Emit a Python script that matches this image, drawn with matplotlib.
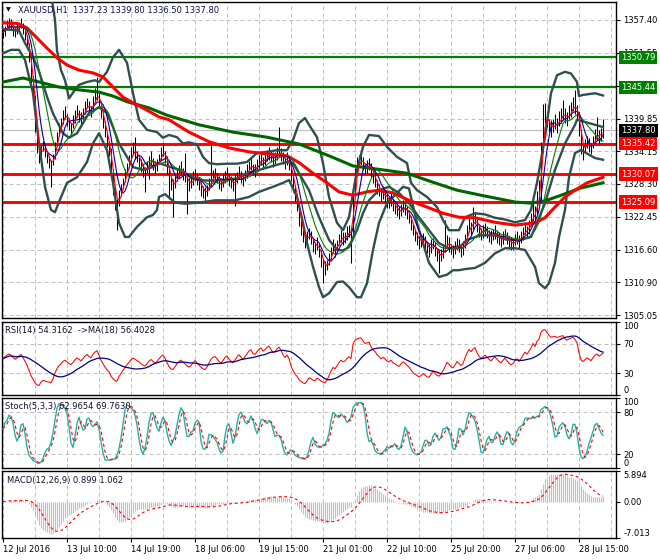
import numpy as np
import pandas as pd
import matplotlib
matplotlib.use("Agg")
import matplotlib.pyplot as plt

plt.rcParams['font.family'] = ['DejaVu Sans']
plt.rcParams['font.size'] = 6

# ---------------- data ----------------
closes = [
 1355.2,1355.8,1356.5,1357.0,1356.6,1355.9,1355.3,1355.8,1356.4,1356.9,
 1356.0,1354.8,1353.4,1351.0,1347.5,1344.0,1339.0,1335.0,1333.0,1334.4,
 1335.0,1334.2,1333.0,1332.4,1331.6,1332.8,1335.0,1336.8,1338.2,1339.0,
 1340.2,1340.8,1339.9,1338.9,1338.4,1339.2,1340.4,1341.2,1340.6,1339.9,
 1340.8,1341.9,1342.6,1341.8,1341.4,1342.8,1343.8,1344.4,1343.0,1341.0,
 1339.4,1337.6,1336.0,1334.6,1331.0,1328.0,1325.6,1324.4,1326.2,1327.4,
 1328.6,1330.0,1331.2,1332.4,1333.6,1334.4,1334.0,1333.2,1332.6,1331.6,
 1330.8,1330.4,1331.2,1332.2,1332.8,1332.0,1331.2,1331.8,1332.8,1333.6,
 1334.2,1333.2,1331.4,1329.6,1328.4,1328.0,1328.8,1329.8,1330.6,1331.0,
 1330.2,1329.6,1328.8,1328.2,1328.6,1329.4,1330.0,1329.2,1328.4,1327.6,
 1327.0,1326.6,1327.2,1328.2,1329.2,1329.8,1330.0,1329.4,1328.6,1328.2,
 1328.8,1329.6,1330.0,1329.2,1328.6,1328.2,1328.8,1329.6,1330.2,1329.6,
 1329.0,1329.8,1330.6,1331.4,1331.8,1331.0,1330.8,1331.6,1332.4,1332.8,
 1332.2,1332.6,1333.4,1333.8,1333.2,1332.6,1332.9,1333.6,1334.2,1333.6,
 1332.8,1332.2,1332.8,1332.0,1330.0,1328.2,1326.5,1325.0,1322.5,1320.6,
 1319.2,1318.2,1318.8,1319.6,1318.8,1317.6,1317.0,1317.6,1316.6,1315.0,
 1314.0,1313.4,1314.0,1315.0,1316.2,1317.2,1316.6,1317.4,1318.4,1319.2,
 1318.6,1318.8,1319.6,1320.2,1319.6,1326.5,1330.0,1331.6,1332.4,1332.8,
 1331.8,1331.0,1331.4,1332.0,1330.6,1329.4,1329.0,1327.8,1327.2,1326.2,
 1326.8,1326.2,1325.4,1325.0,1325.6,1324.6,1324.2,1323.6,1323.2,1323.8,
 1324.4,1324.0,1323.2,1322.6,1321.4,1320.2,1319.4,1318.6,1318.0,1318.2,
 1318.6,1317.8,1317.0,1316.6,1317.2,1317.8,1316.8,1315.8,1315.4,1315.8,
 1316.4,1317.2,1318.2,1317.6,1316.8,1316.4,1317.0,1317.8,1317.2,1316.6,
 1317.0,1318.4,1319.8,1321.2,1320.6,1321.6,1322.2,1321.0,1320.0,1319.4,
 1319.8,1320.4,1319.8,1319.2,1318.8,1319.4,1319.8,1319.2,1318.6,1318.2,
 1318.8,1319.4,1318.6,1318.0,1317.6,1317.8,1318.4,1318.8,1318.2,1318.8,
 1319.6,1320.4,1320.0,1320.8,1321.8,1323.6,1323.0,1325.5,1327.0,1334.5,
 1339.5,1340.5,1339.6,1338.6,1338.0,1338.6,1339.2,1338.8,1339.6,1340.4,
 1341.0,1340.2,1339.8,1340.8,1341.6,1342.4,1341.8,1341.0,1338.0,1335.0,
 1334.2,1335.0,1335.8,1335.2,1334.6,1335.8,1336.8,1337.4,1336.6,1337.2,1337.8]

up_wick = [
 0.8,0.6,0.9,0.7,1.0,0.6,0.8,0.9,0.7,0.8,
 0.7,0.8,0.6,0.9,0.8,1.0,0.9,1.2,1.0,0.8,
 0.9,0.7,1.1,0.8,1.0,0.9,0.8,0.7,0.9,1.0,
 1.2,1.4,0.9,1.1,0.8,1.3,1.0,1.2,0.9,1.1,
 0.9,1.2,1.0,1.3,0.8,1.1,1.5,2.9,1.0,0.8,
 0.9,1.0,0.8,1.1,0.9,1.2,1.0,0.8,1.1,0.9,
 0.8,1.0,0.9,1.1,1.2,1.4,2.6,1.0,0.9,1.2,
 1.0,0.9,1.2,1.0,1.3,0.9,1.1,1.0,0.9,1.2,
 1.3,1.0,0.9,1.2,1.0,1.1,0.9,1.2,1.0,1.3,
 1.0,4.2,0.9,1.1,1.0,1.2,1.0,0.9,1.1,1.0,
 0.9,1.2,1.0,1.1,6.6,1.0,1.2,0.9,1.1,1.0,
 1.2,1.0,1.3,0.9,1.1,1.0,1.2,0.9,1.3,1.0,
 1.1,0.9,1.2,1.0,1.3,0.9,1.1,1.2,1.0,1.1,
 0.9,1.2,1.0,1.1,0.9,1.3,1.0,1.2,4.2,1.0,
 1.1,0.9,1.2,1.0,0.9,1.1,1.0,0.8,1.0,1.2,
 1.3,1.0,1.2,0.9,1.1,1.2,1.0,1.3,0.9,1.1,
 1.0,1.2,0.9,1.1,1.0,1.3,1.2,0.9,1.1,1.0,
 1.2,1.0,1.3,0.9,1.1,0.8,1.2,1.4,1.0,1.1,
 1.3,1.0,1.2,0.9,1.1,1.0,1.2,0.9,1.1,1.0,
 1.2,0.9,1.1,1.0,1.3,0.9,1.1,1.0,1.2,0.9,
 1.1,1.0,1.2,0.9,1.0,1.1,0.9,1.2,1.0,1.1,
 1.0,1.2,0.9,1.1,1.3,1.0,1.2,0.9,1.1,1.0,
 1.2,4.7,1.0,1.3,0.9,1.1,1.2,1.0,1.3,0.9,
 1.1,1.0,1.2,1.3,1.0,2.6,1.2,1.0,0.9,1.1,
 1.2,1.0,1.1,0.9,1.3,1.0,1.2,0.9,1.1,1.0,
 1.2,0.9,1.1,1.0,1.3,0.9,1.1,1.2,1.0,1.1,
 1.0,1.2,0.9,1.1,1.3,1.5,1.4,1.6,2.0,1.3,
 3.0,2.2,1.4,1.2,1.6,1.3,1.5,1.2,1.6,1.4,
 2.2,1.5,1.3,1.6,1.2,1.4,3.1,1.3,1.2,1.0,
 1.1,1.3,1.0,1.2,0.9,1.1,1.3,2.8,1.2,1.0,2.0]

down_wick = [
 1.0,1.2,0.8,1.1,0.9,1.3,1.0,0.9,1.2,1.0,
 1.1,0.9,1.2,1.0,1.3,1.1,1.4,1.2,1.0,1.2,
 0.9,1.1,1.0,1.3,3.8,1.0,0.9,1.1,1.0,0.8,
 1.1,0.9,1.3,1.0,1.2,0.9,1.1,1.0,1.3,1.1,
 1.0,1.2,0.9,1.1,1.3,1.0,0.9,1.2,1.1,1.0,
 1.2,1.0,1.1,1.3,1.4,1.6,1.9,4.3,1.2,1.0,
 1.1,0.9,1.2,1.0,1.1,0.9,1.2,1.0,1.3,1.1,
 1.2,3.6,1.0,3.0,1.1,1.3,1.0,1.2,0.9,1.1,
 1.0,1.2,1.3,4.0,1.1,5.6,1.2,1.0,1.3,1.1,
 1.2,1.0,5.8,1.2,1.0,1.3,1.1,1.0,1.2,1.4,
 1.2,1.4,1.1,1.0,1.2,1.1,1.3,1.0,1.2,1.1,
 1.0,1.2,1.1,1.3,1.0,1.2,4.4,1.1,1.0,1.2,
 1.1,1.0,1.3,1.2,1.0,1.1,1.2,1.0,1.3,1.1,
 1.2,1.0,1.1,1.3,1.0,1.2,1.1,1.0,1.2,1.3,
 1.0,1.2,1.1,1.3,1.2,1.4,1.3,1.5,1.6,1.4,
 1.2,1.3,1.1,1.0,1.2,1.3,1.1,1.0,1.2,1.4,
 3.3,1.2,1.0,1.1,1.2,1.0,1.3,1.1,1.0,1.2,
 1.1,1.0,1.2,1.3,5.3,7.0,1.2,1.1,1.0,1.2,
 1.1,1.0,1.2,1.3,1.1,1.0,1.2,1.3,1.1,1.0,
 1.2,1.1,1.3,1.0,1.2,1.1,1.3,1.0,1.2,1.1,
 1.0,1.2,1.1,1.3,1.2,1.0,1.3,1.1,1.2,1.0,
 1.1,1.3,1.0,1.2,1.1,1.0,1.3,1.2,2.9,1.1,
 1.2,1.0,1.1,1.3,1.0,1.2,1.1,1.3,1.0,1.2,
 1.3,1.1,1.0,1.2,1.1,1.3,1.0,1.2,1.1,1.0,
 1.1,1.3,1.0,1.2,1.1,1.0,1.2,1.3,1.1,1.0,
 1.2,1.1,1.0,1.3,1.1,1.2,1.0,1.1,1.3,1.0,
 1.2,1.0,1.1,1.3,1.0,1.2,1.1,1.3,1.2,9.0,
 5.5,1.4,1.2,1.1,1.3,1.0,1.2,1.4,1.1,1.2,
 1.3,1.1,1.2,1.0,1.4,1.2,1.1,1.3,1.2,1.4,
 1.6,1.2,1.1,1.3,1.0,1.2,1.1,1.3,1.0,1.2,1.3]

# slow moving averages and Bollinger bands, read at sample bars
ma_red_bar = [0,7,12,17,22,27,32,38,45,50,55,60,65,72,78,83,93,103,113,123,133,142,148,155,162,168,175,182,188,195,203,212,220,228,236,246,256,266,271,276,281,286,292,300]
ma_red_val = [1356.9,1356.8,1356.0,1354.2,1352.4,1350.7,1349.4,1348.5,1348.0,1347.3,1345.5,1343.7,1342.7,1341.4,1340.2,1339.7,1337.5,1335.8,1334.7,1334.0,1333.6,1333.3,1332.1,1330.2,1328.5,1326.9,1326.3,1326.9,1327.2,1326.7,1325.4,1324.2,1323.1,1322.4,1322.3,1321.5,1321.0,1321.4,1322.3,1324.2,1326.0,1327.2,1328.5,1329.5]

ma_green_bar = [0,10,18,28,38,48,55,62,68,73,82,98,115,132,148,163,175,188,202,215,227,239,256,264,271,279,289,300]
ma_green_val = [1346.4,1347.1,1346.4,1345.5,1345.0,1344.6,1343.9,1342.9,1342.3,1341.8,1340.5,1338.8,1337.5,1336.6,1335.4,1333.3,1331.5,1330.9,1330.2,1328.6,1327.2,1326.3,1325.1,1324.9,1325.3,1326.3,1327.6,1328.5]

bb_up_bar = [0,6,11,16,21,24,26,27,29,31,33,36,38,42,46,48,52,55,58,62,65,68,72,77,80,83,87,90,93,97,100,103,107,112,117,122,127,132,137,142,145,148,151,153,157,160,163,167,170,173,177,180,183,188,192,197,202,204,207,212,217,220,223,228,231,236,241,246,251,256,261,264,267,271,274,277,281,284,287,288,290,296,300]
bb_up_val = [1362.5,1363.5,1364.5,1365.5,1365.0,1362.0,1357.4,1352.0,1348.5,1346.7,1343.5,1345.0,1345.9,1346.4,1346.7,1346.4,1348.2,1350.8,1352.1,1349.8,1344.4,1339.7,1337.9,1337.5,1336.5,1337.0,1336.6,1335.5,1335.7,1335.3,1333.1,1332.0,1331.8,1331.9,1331.9,1332.2,1333.8,1334.0,1334.3,1334.3,1336.1,1339.1,1340.0,1338.8,1336.6,1332.0,1326.0,1321.4,1320.1,1322.4,1330.8,1334.9,1337.0,1336.8,1334.9,1333.1,1332.0,1328.5,1327.2,1326.0,1324.2,1321.9,1320.1,1320.1,1322.4,1323.1,1322.9,1322.3,1322.0,1321.5,1321.9,1323.7,1328.5,1336.6,1344.4,1347.6,1348.2,1347.9,1346.4,1343.9,1344.1,1344.4,1344.0]

bb_mid_bar = [0,8,11,15,18,22,25,30,33,37,40,43,48,52,55,58,62,65,70,75,78,83,88,93,98,103,110,117,122,128,135,142,145,148,153,158,163,167,170,173,177,180,183,188,193,198,203,208,213,218,223,228,232,239,246,252,259,264,267,271,276,281,286,287,292,300]
bb_mid_val = [1355.8,1355.5,1353.3,1350.8,1348.3,1343.8,1340.8,1337.3,1336.5,1337.3,1339.1,1340.9,1341.9,1340.9,1338.4,1335.5,1333.1,1331.3,1330.8,1331.3,1332.0,1331.4,1330.8,1329.9,1329.0,1328.9,1329.0,1329.3,1330.2,1330.8,1331.5,1332.2,1332.0,1330.2,1327.2,1322.4,1318.4,1316.6,1316.5,1317.1,1320.1,1323.1,1325.4,1327.2,1327.8,1326.7,1324.9,1322.4,1320.1,1317.8,1316.9,1317.0,1318.4,1319.2,1319.2,1318.4,1318.4,1318.9,1321.4,1324.9,1330.8,1335.5,1338.8,1339.7,1339.2,1338.4]

bb_lo_bar = [0,4,8,11,15,18,21,24,26,28,32,37,42,45,48,52,55,58,61,63,67,72,75,77,78,81,86,91,98,106,116,123,128,135,140,143,147,150,152,155,158,160,163,167,170,173,177,179,182,185,188,192,197,200,203,207,210,213,218,222,225,228,231,236,241,246,251,256,261,266,268,271,273,276,278,281,283,286,289,296,300]
bb_lo_val = [1351.5,1352.1,1352.1,1350.3,1344.4,1335.5,1327.8,1323.7,1323.3,1325.1,1328.5,1329.5,1332.2,1335.5,1337.3,1334.3,1328.5,1321.4,1318.9,1318.9,1320.7,1322.4,1322.8,1323.7,1326.0,1326.5,1325.0,1324.8,1325.0,1325.4,1325.4,1326.0,1326.9,1327.8,1328.5,1329.0,1326.0,1321.4,1317.8,1313.6,1310.0,1308.2,1308.9,1310.9,1311.0,1310.0,1308.2,1308.2,1310.7,1316.6,1321.4,1324.9,1326.7,1327.8,1327.5,1321.4,1317.8,1314.3,1311.8,1312.2,1313.0,1313.0,1313.2,1313.4,1314.3,1316.0,1316.9,1316.9,1316.6,1313.6,1310.7,1309.8,1310.7,1314.3,1318.9,1323.7,1329.5,1333.8,1334.3,1332.9,1332.6]

green_levels = [1350.79, 1345.44]
red_levels = [1335.42, 1330.07, 1325.09]
last_price = 1337.80
price_ticks = [1357.40, 1351.55, 1345.70, 1339.85, 1334.15, 1328.30, 1322.45, 1316.60, 1310.90, 1305.05]

time_labels = ["12 Jul 2016", "13 Jul 10:00", "14 Jul 19:00", "18 Jul 06:00", "19 Jul 15:00",
               "21 Jul 01:00", "22 Jul 10:00", "25 Jul 20:00", "27 Jul 06:00", "28 Jul 15:00"]
time_label_bars = [0, 32, 64, 96, 128, 160, 192, 224, 256, 288]

title = "XAUUSD,H1  1337.23 1339.80 1336.50 1337.80"
rsi_title = "RSI(14) 54.3162  ->MA(18) 56.4028"
stoch_title = "Stoch(5,3,3) 62.9654 69.7630"
macd_title = "MACD(12,26,9) 0.899 1.062"

# ---------------- bars and indicator calculations ----------------
c = pd.Series(closes, dtype=float)
opens = c.shift(1).fillna(c.iloc[0])
hi = pd.Series(np.maximum(c + pd.Series(up_wick), opens))
lo = pd.Series(np.minimum(c - pd.Series(down_wick), opens))
idx = np.arange(len(c))

ma3 = c.rolling(3, min_periods=1).mean()
ma6 = c.rolling(6, min_periods=1).mean()
ma12 = c.rolling(12, min_periods=1).mean()

delta = c.diff().fillna(0.0)
gain = delta.clip(lower=0).values
loss = (-delta.clip(upper=0)).values
seed = np.abs(delta.values[1:15]).mean() / 2
ag, al = seed, seed
rsi = np.zeros(len(c))
for i in range(len(c)):
    if i > 0:
        ag = (ag * 13 + gain[i]) / 14
        al = (al * 13 + loss[i]) / 14
    rsi[i] = 100 - 100 / (1 + ag / al)
rsi = pd.Series(rsi)
rsi_ma = rsi.rolling(18, min_periods=1).mean()

ll = lo.rolling(5, min_periods=1).min()
hh = hi.rolling(5, min_periods=1).max()
st_k = 100 * (c - ll).rolling(3, min_periods=1).sum() / (hh - ll).rolling(3, min_periods=1).sum()
st_d = st_k.rolling(3, min_periods=1).mean()

ema12 = c.ewm(span=12, adjust=False).mean()
ema26 = c.ewm(span=26, adjust=False).mean()
macd = ema12 - ema26
macd_sig = macd.rolling(9, min_periods=1).mean()

# ---------------- layout ----------------
W, H = 660, 560
fig = plt.figure(figsize=(W / 100, H / 100), dpi=100)
fig.patch.set_facecolor('white')

def make_ax(top, bottom, left=2, right=616):
    a = fig.add_axes([left / W, 1 - bottom / H, (right - left) / W, (bottom - top) / H])
    a.set_xlim(-0.5, 306.5)
    for s in a.spines.values():
        s.set_color('black')
        s.set_linewidth(1.0)
    a.yaxis.tick_right()
    a.tick_params(axis='y', length=3, width=0.8, pad=2.2, labelsize=6, colors='black')
    a.tick_params(axis='x', length=0, labelbottom=False)
    return a

ax = make_ax(2, 318)
ax_r = make_ax(322, 395)
ax_s = make_ax(398, 468)
ax_m = make_ax(471, 538)

grid_kw = dict(color='#C0C0C0', lw=0.72, ls=(0, (4, 3)), zorder=0.5)
for a in (ax, ax_r, ax_s, ax_m):
    for k in range(0, 307, 16):
        a.axvline(k, **grid_kw)

# ---------------- main chart ----------------
ax.set_ylim(1304.52, 1360.59)
ax.set_yticks(price_ticks)
ax.set_yticklabels([f"{v:.2f}" for v in price_ticks])
for v in price_ticks:
    ax.axhline(v, **grid_kw)
ax.axhline(last_price, color='#C0C0C0', lw=0.9, zorder=0.6)

for v in green_levels:
    ax.axhline(v, color='#008000', lw=1.6, zorder=1)
for v in red_levels:
    ax.axhline(v, color='#FF0000', lw=2.1, zorder=1)

ax.vlines(idx, lo, hi, color='black', lw=0.75, zorder=2)

bb_col = '#2F4F4F'
ax.plot(bb_up_bar, bb_up_val, color=bb_col, lw=1.7, zorder=3)
ax.plot(bb_mid_bar, bb_mid_val, color=bb_col, lw=1.7, zorder=3)
ax.plot(bb_lo_bar, bb_lo_val, color=bb_col, lw=1.7, zorder=3)
ax.plot(ma_green_bar, ma_green_val, color='#006400', lw=2.2, zorder=3.2)
ax.plot(ma_red_bar, ma_red_val, color='#FF0000', lw=2.2, zorder=3.3)

ax.plot(idx, ma12, color='#008000', lw=0.8, zorder=4)
ax.plot(idx, ma6, color='#0000B0', lw=0.8, zorder=4.1)
ax.plot(idx, ma3, color='#FF0000', lw=0.8, zorder=4.2)

ytr = ax.get_yaxis_transform()
box_x = 1.0 + 5 / 614
for v in green_levels:
    ax.text(box_x, v, f"{v:.2f}", transform=ytr, ha='left', va='center', fontsize=6,
            color='white', zorder=10, clip_on=False,
            bbox=dict(boxstyle='square,pad=0.25', fc='#008000', ec='none'))
for v in red_levels:
    ax.text(box_x, v, f"{v:.2f}", transform=ytr, ha='left', va='center', fontsize=6,
            color='white', zorder=10, clip_on=False,
            bbox=dict(boxstyle='square,pad=0.25', fc='#FF0000', ec='none'))
ax.text(box_x, last_price, f"{last_price:.2f}", transform=ytr, ha='left', va='center', fontsize=6,
        color='white', zorder=10, clip_on=False,
        bbox=dict(boxstyle='square,pad=0.25', fc='black', ec='none'))

fig.text(6 / W, 1 - 10 / H, "\u25BC", fontsize=4.5, va='center', ha='left', color='black')
fig.text(18 / W, 1 - 10 / H, title, fontsize=6, va='center', ha='left', color='#101050')

# ---------------- RSI ----------------
ax_r.set_ylim(0, 100)
for v in (70, 30):
    ax_r.axhline(v, **grid_kw)
ax_r.plot(idx, rsi, color='#FF0000', lw=0.75, zorder=3)
ax_r.plot(idx, rsi_ma, color='#000080', lw=0.9, zorder=4)
ax_r.set_yticks([0, 30, 70, 100])
ax_r.set_yticklabels(['0', '30', '70', '100'])
lbls = ax_r.get_yticklabels()
lbls[0].set_va('bottom'); lbls[3].set_va('top')
fig.text(5 / W, 1 - 330 / H, rsi_title, fontsize=6, va='center', ha='left', color='#101030')

# ---------------- Stochastic ----------------
ax_s.set_ylim(0, 100)
for v in (80, 20):
    ax_s.axhline(v, **grid_kw)
ax_s.plot(idx, st_k, color='#20B2AA', lw=1.0, zorder=3)
ax_s.plot(idx, st_d, color='#FF0000', lw=0.8, ls=(0, (3, 2.5)), zorder=4)
ax_s.set_yticks([0, 20, 80, 100])
ax_s.set_yticklabels(['0', '20', '80', '100'])
lbls = ax_s.get_yticklabels()
lbls[0].set_va('bottom'); lbls[3].set_va('top')
fig.text(5 / W, 1 - 407 / H, stoch_title, fontsize=6, va='center', ha='left', color='#101030')

# ---------------- MACD ----------------
ax_m.set_ylim(-7.013, 5.894)
ax_m.vlines(idx, 0, macd, color='#C0C0C0', lw=0.8, zorder=2)
ax_m.plot(idx, macd_sig, color='#FF0000', lw=0.8, ls=(0, (2.5, 2.5)), zorder=3)
ax_m.set_yticks([-7.013, 0.0, 5.894])
ax_m.set_yticklabels(['-7.013', '0.00', '5.894'])
lbls = ax_m.get_yticklabels()
lbls[0].set_va('bottom'); lbls[2].set_va('top')
fig.text(7 / W, 1 - 481 / H, macd_title, fontsize=6, va='center', ha='left', color='#101030')

ax_m.set_xticks(time_label_bars)
ax_m.set_xticklabels(time_labels)
ax_m.tick_params(axis='x', length=3, width=0.8, direction='out', pad=2, labelbottom=True,
                 labelsize=6, colors='black')
for t in ax_m.get_xticklabels():
    t.set_ha('left')

fig.savefig("out.png", dpi=100, facecolor='white')
